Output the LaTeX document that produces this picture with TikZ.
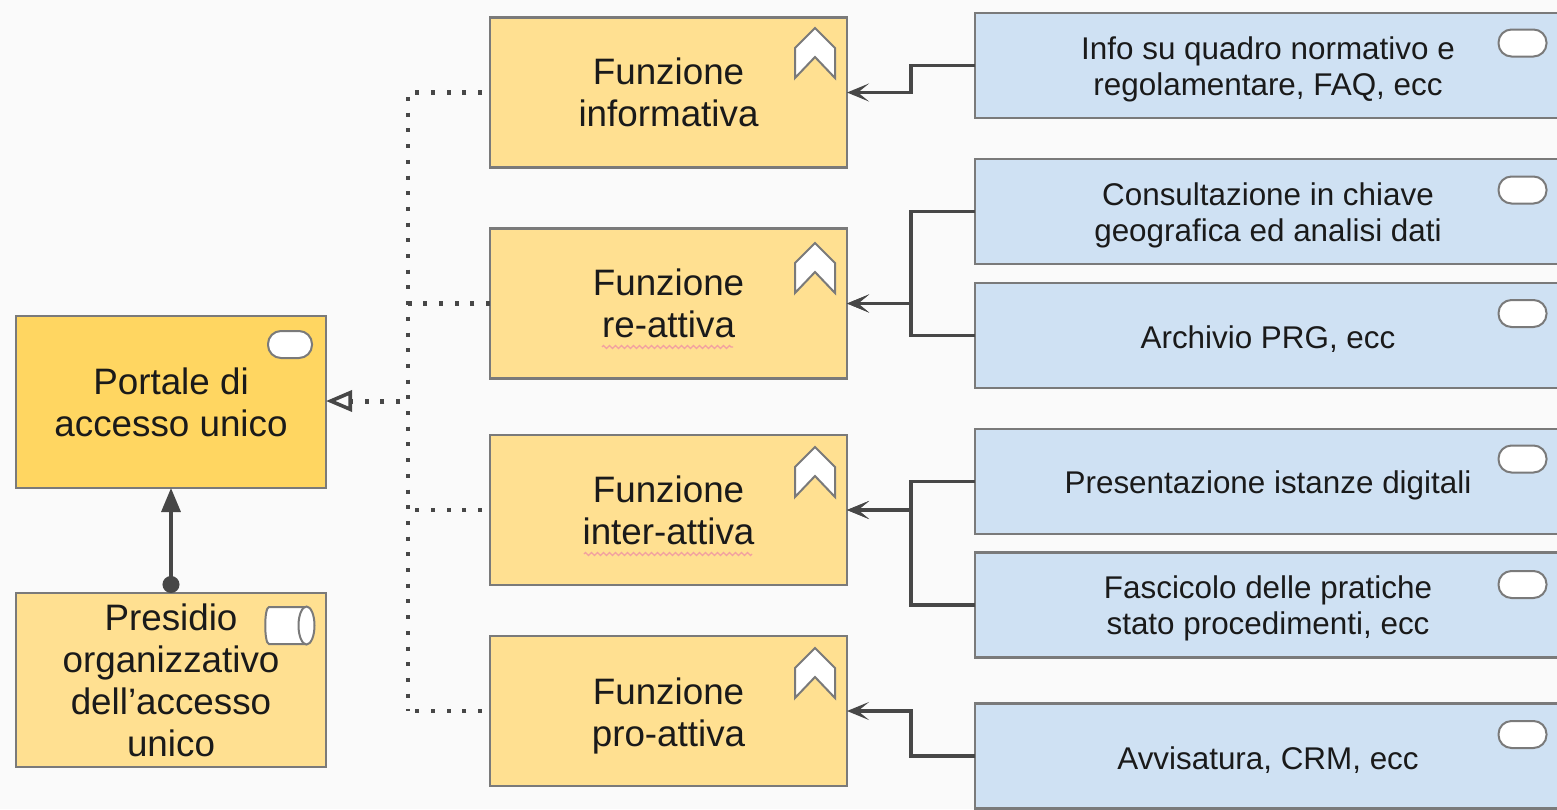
\documentclass[tikz,border=0pt]{standalone}
\usepackage{fontspec}
\setmainfont{Liberation Sans}
\usetikzlibrary{arrows.meta,decorations.pathmorphing}
\definecolor{bgc}{HTML}{FAFAFA}
\definecolor{yel}{HTML}{FFE091}
\definecolor{yeldark}{HTML}{FFD661}
\definecolor{blu}{HTML}{CFE1F3}
\definecolor{edgec}{HTML}{7A7A7A}
\definecolor{linec}{HTML}{474747}
\definecolor{txt}{HTML}{1A1A1A}
\definecolor{squig}{HTML}{F2A0A0}
\tikzset{
  boxbase/.style={draw=edgec,line width=1.2pt,inner sep=0pt,outer sep=0pt,align=center,text=txt},
  big/.style={font=\fontsize{18.4}{21}\selectfont},
  small/.style={font=\fontsize{15.7}{18}\selectfont},
  func/.style={boxbase,big,fill=yel,minimum width=178.5pt,minimum height=75pt},
  port/.style={boxbase,big,fill=yeldark,minimum width=155pt,minimum height=86pt},
  pres/.style={boxbase,big,fill=yel,minimum width=155pt,minimum height=87pt},
  serv/.style={boxbase,small,fill=blu,minimum width=293pt,minimum height=52.5pt},
  servtext/.style={small,align=center,text=txt,inner sep=0pt,yshift=-1.9pt},
  functext/.style={big,align=center,text=txt,inner sep=0pt,yshift=-2.25pt},
  pill/.style={draw=edgec,line width=1pt,fill=white,rounded corners=6.5pt,inner sep=0pt,minimum width=24pt,minimum height=13.5pt},
  conn/.style={draw=linec,line width=1.7pt,-{Stealth[length=11pt,width=9pt,inset=5.5pt]}},
  dotline/.style={draw=linec,line width=2.1pt,dash pattern=on 2pt off 5.85pt},
  squiggle/.style={draw=squig,line width=0.6pt,decorate,decoration={zigzag,segment length=3pt,amplitude=0.8pt}},
  chevshape/.style={draw=edgec,line width=1pt,fill=white,line join=miter},
}
\newcommand{\chevron}[2]{%
  \draw[chevshape] (#1-20,#2+20) -- (#1,#2) -- (#1+20,#2+20) -- (#1+20,#2+50) -- (#1,#2+29) -- (#1-20,#2+50) -- cycle;}
\begin{document}
\begin{tikzpicture}[x=0.5pt,y=-0.5pt]
\useasboundingbox (0,0) rectangle (1557,809);
\clip (0,0) rectangle (1557,809);
\fill[bgc] (0,0) rectangle (1557,809);

% boxes
\node[port] (portale) at (171,402) {Portale di\\accesso unico};
\node[pres] (presidio) at (171,680) {Presidio\\organizzativo\\dell’accesso\\unico};
\node[func] (f1) at (668.5,92.5) {Funzione\\informativa};
\node[func] (f2) at (668.5,303.5) {Funzione\\re-attiva};
\node[func] (f3) at (668.5,510) {Funzione\\inter-attiva};
\node[func,label={[functext]center:{Funzione\\pro-attiva}}] (f4) at (668.5,711) {};
\node[serv,label={[servtext]center:{Info su quadro normativo e\\regolamentare, FAQ, ecc}}] (b1) at (1268,65.5) {};
\node[serv,label={[servtext]center:{Consultazione in chiave\\geografica ed analisi dati}}] (b2) at (1268,211.5) {};
\node[serv,label={[servtext]center:{Archivio PRG, ecc}}] (b3) at (1268,335.5) {};
\node[serv,label={[servtext]center:{Presentazione istanze digitali}}] (b4) at (1268,481.5) {};
\node[serv,label={[servtext]center:{Fascicolo delle pratiche\\stato procedimenti, ecc}}] (b5) at (1268,605) {};
\node[serv,label={[servtext]center:{Avvisatura, CRM, ecc}}] (b6) at (1268,756) {};

% icons
\node[pill,minimum width=22pt] (ip) at (290,344.5) {};
\node[pill] (i1) at (1522.5,43) {};
\node[pill] (i2) at (1522.5,190) {};
\node[pill] (i3) at (1522.5,313.5) {};
\node[pill] (i4) at (1522.5,459) {};
\node[pill] (i5) at (1522.5,584.5) {};
\node[pill] (i6) at (1522.5,734.5) {};
\chevron{815}{28}
\chevron{815}{243}
\chevron{815}{447}
\chevron{815}{648}
% cylinder icon
\draw[draw=edgec,line width=1pt,fill=white,rounded corners=5pt] (306,607) -- (279,607) .. controls (264,607) and (264,644) .. (279,644) -- (306,644);
\draw[draw=edgec,line width=1pt,fill=white] (306.5,625.5) ellipse [x radius=8,y radius=19];

% squiggles
\draw[squiggle] (602,347) -- (733,347);
\draw[squiggle] (584,554) -- (752,554);

% coordinates
\coordinate (jx) at (911,0);
\coordinate (tx) at (408,0);
\coordinate (mid) at (408,401);

% dotted realisation
\draw[dotline,dash phase=3.85pt] (f1.west) -- (f1.west -| tx) -- (f4.west -| tx);
\draw[dotline,dash phase=3.85pt] (f4.west) -- (f4.west -| tx);
\draw[dotline] (f2.west) -- (f2.west -| tx);
\draw[dotline,dash phase=3.85pt] (f3.west) -- (f3.west -| tx);
\draw[dotline,line width=2.5pt,dash phase=3.85pt,arrows={-{Triangle[open,length=13pt,width=10.5pt,line width=1.8pt,fill=bgc]}}] (mid) -- (mid -| portale.east);

% assignment
\draw[draw=linec,line width=1.7pt,{Circle[length=8.5pt]}-{Triangle[length=12pt,width=9.5pt]}] (presidio.north) -- (portale.south);

% service connectors
\draw[conn] (b1.west) -- (b1.west -| jx) -- (f1.east -| jx) -- (f1.east);
\draw[conn] (b2.west) -- (b2.west -| jx) -- (f2.east -| jx) -- (f2.east);
\draw[conn] (b3.west) -- (b3.west -| jx) -- (f2.east -| jx) -- (f2.east);
\draw[conn] (b4.west) -- (b4.west -| jx) -- (f3.east -| jx) -- (f3.east);
\draw[conn] (b5.west) -- (b5.west -| jx) -- (f3.east -| jx) -- (f3.east);
\draw[conn] (b6.west) -- (b6.west -| jx) -- (f4.east -| jx) -- (f4.east);
\end{tikzpicture}
\end{document}
